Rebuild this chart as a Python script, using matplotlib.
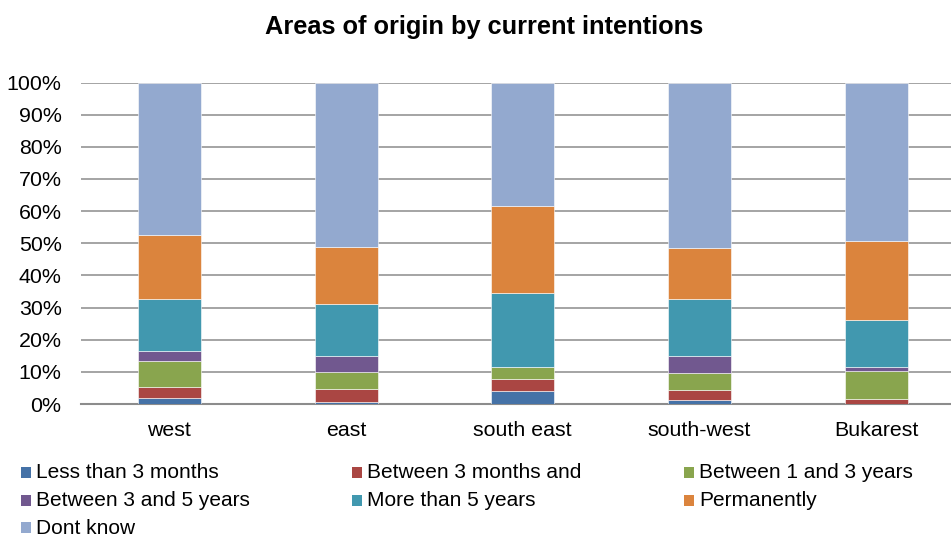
import matplotlib
matplotlib.use("Agg")
import matplotlib.pyplot as plt
import numpy as np
from matplotlib.patches import Rectangle

plt.rcParams['font.family'] = ['Liberation Sans', 'DejaVu Sans']

regions = ['west', 'east', 'south east', 'south-west', 'Bukarest']
series_labels = ['Less than 3 months', 'Between 3 months and', 'Between 1 and 3 years',
                 'Between 3 and 5 years', 'More than 5 years', 'Permanently', 'Dont know']

# shares in % per region
less_3m = [1.9, 0.7, 3.9, 1.2, 0.0]
btw_3m = [3.3, 4.0, 3.8, 3.1, 1.5]
btw_1_3y = [8.2, 5.3, 3.9, 5.2, 8.7]
btw_3_5y = [3.2, 4.9, 0.0, 5.4, 1.4]
more_5y = [16.2, 16.3, 23.0, 17.7, 14.5]
permanent = [19.8, 17.6, 27.0, 16.0, 24.7]
dont_know = [47.4, 51.2, 38.4, 51.4, 49.2]

colors = ['#4572A7', '#AA4643', '#89A54E', '#71588F', '#4198AF', '#DB843D', '#93A9CF']

series = [less_3m, btw_3m, btw_1_3y, btw_3_5y, more_5y, permanent, dont_know]
data = np.array(series, dtype=float)
data = data / data.sum(axis=0) * 100

W, H = 951, 536
fig = plt.figure(figsize=(W / 100, H / 100), dpi=100)
ax = fig.add_axes([81 / W, (H - 404) / H, (964.5 - 81) / W, (404 - 82.5) / H])

x = np.arange(len(regions))
bottom = np.zeros(len(regions))
for vals, col, lab in zip(data, colors, series_labels):
    ax.bar(x, vals, 0.356, bottom=bottom, color=col, edgecolor='white',
           linewidth=0.4, label=lab, zorder=3)
    bottom += vals

ax.set_xlim(-0.5, len(regions) - 0.5)
ax.set_ylim(0, 100)
ax.set_yticks(np.arange(0, 101, 10))
ax.set_yticklabels([f'{v}%' for v in range(0, 101, 10)])
ax.set_xticks(x)
ax.set_xticklabels(regions)
ax.tick_params(axis='both', length=0, labelsize=15.4)
ax.tick_params(axis='y', pad=14)
ax.tick_params(axis='x', pad=12)
ax.yaxis.grid(True, color='#8c8c8c', linewidth=1.1, zorder=0)
for s in ['left', 'right', 'top']:
    ax.spines[s].set_visible(False)
ax.spines['bottom'].set_color('#8c8c8c')
ax.spines['bottom'].set_linewidth(1.5)

fig.text(484 / W, 1 - 27 / H, 'Areas of origin by current intentions',
         ha='center', va='center', fontsize=18.3, fontweight='bold')

# legend, row by row in three columns
col_x = [21, 352, 684]
row_y = [473, 501, 528]
for i, (lab, col) in enumerate(zip(series_labels, colors)):
    r, c = divmod(i, 3)
    fig.patches.append(Rectangle((col_x[c] / W, (H - row_y[r] - 5) / H), 10 / W, 11 / H,
                                 transform=fig.transFigure, facecolor=col, edgecolor='none'))
    fig.text((col_x[c] + 15) / W, 1 - row_y[r] / H, lab, ha='left', va='center', fontsize=15)

fig.savefig('out.png', dpi=100)
